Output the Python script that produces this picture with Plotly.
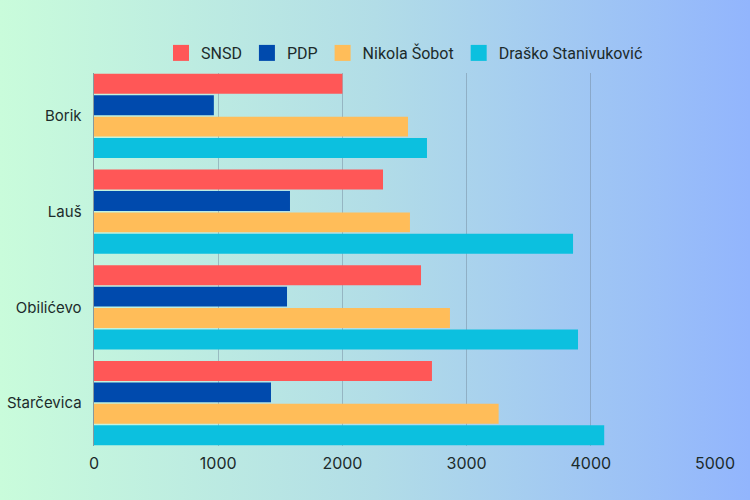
import base64
import plotly.graph_objects as go

categories = ["Borik", "Lauš", "Obilićevo", "Starčevica"]
series_names = ["SNSD", "PDP", "Nikola Šobot", "Draško Stanivuković"]
snsd = [2000, 2327, 2633, 2721]
pdp = [965, 1578, 1554, 1425]
sobot = [2528, 2544, 2866, 3258]
stanivukovic = [2681, 3857, 3897, 4108]
colors = ["#ff5757", "#004aad", "#ffbd59", "#0cc0df"]
x_ticks = [0, 1000, 2000, 3000, 4000, 5000]

W, H = 750, 500
ml, mr, mt, mb = 94, 35, 73, 54
pw, ph = W - ml - mr, H - mt - mb
bargap = 0.104

svg = (
    '<svg xmlns="http://www.w3.org/2000/svg" width="750" height="500" preserveAspectRatio="none">'
    '<defs><linearGradient id="g" x1="0" y1="0" x2="1" y2="0">'
    '<stop offset="0" stop-color="#c9fcdb"/>'
    '<stop offset="0.5" stop-color="#b2dde7"/>'
    '<stop offset="1" stop-color="#92b5fd"/>'
    '</linearGradient></defs>'
    '<rect x="0" y="0" width="750" height="500" fill="url(#g)"/></svg>'
)
src = "data:image/svg+xml;base64," + base64.b64encode(svg.encode()).decode()

fig = go.Figure()
for name, vals, c in zip(series_names, [snsd, pdp, sobot, stanivukovic], colors):
    fig.add_trace(go.Bar(y=categories, x=vals, name=name, orientation="h",
                         legendgroup=name, showlegend=False,
                         marker=dict(color=c, line=dict(width=0))))
for name, c in zip(series_names, colors):
    fig.add_trace(go.Scatter(x=[None], y=[None], mode="markers", name=name,
                             legendgroup=name, showlegend=True,
                             marker=dict(symbol="square", size=18, color=c)))

n = len(categories)
fig.update_layout(
    width=W, height=H,
    margin=dict(l=ml, r=mr, t=mt, b=mb, autoexpand=False),
    paper_bgcolor="rgba(0,0,0,0)",
    plot_bgcolor="rgba(0,0,0,0)",
    barmode="group",
    bargap=bargap,
    bargroupgap=0.07,
    font=dict(family="Inter", size=16, color="#1c2b2b"),
    legend=dict(orientation="h", x=0.5, xanchor="center", y=1 + 20 / ph, yanchor="middle",
                font=dict(family="Roboto", size=16, color="#1c2b2b"),
                traceorder="normal", itemwidth=30, itemsizing="trace",
                bgcolor="rgba(0,0,0,0)"),
    xaxis=dict(range=[0, 5000], tickvals=x_ticks, showgrid=True,
               gridcolor="rgba(110,130,150,0.45)", gridwidth=1, zeroline=False,
               showline=False, ticks="", ticklen=0, ticklabelstandoff=6),
    yaxis=dict(range=[n - 0.5 - bargap / 2, -0.5 + bargap / 2],
               showline=True, linecolor="rgba(120,130,140,0.8)",
               linewidth=1, ticks="", showgrid=False, ticksuffix="  ",
               tickfont=dict(size=15)),
    images=[dict(source=src, xref="paper", yref="paper", x=-ml / pw, y=1 + mt / ph,
                 sizex=W / pw, sizey=H / ph, xanchor="left", yanchor="top",
                 sizing="stretch", layer="below")],
)

fig.write_html("out.html", config={"displayModeBar": False},
               post_script="document.body.style.margin='0';document.body.style.overflow='hidden';")
